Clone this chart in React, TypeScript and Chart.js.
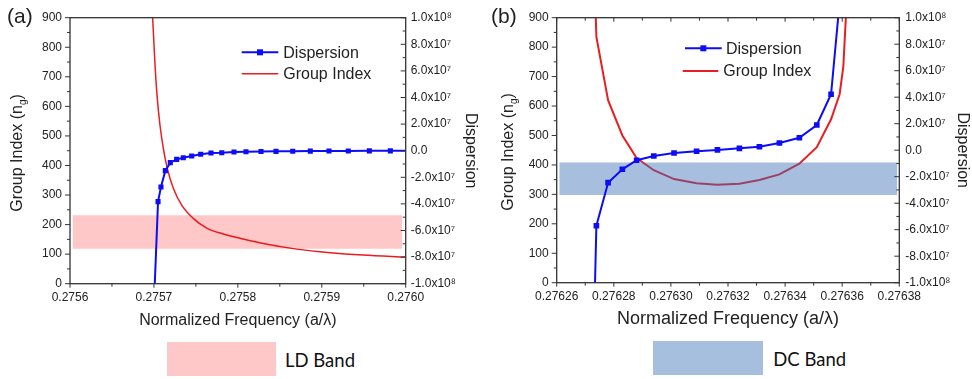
import React, { useEffect, useRef } from 'react';
import { Chart, registerables } from 'chart.js';

Chart.register(...registerables);

const FONT = "'Liberation Sans', Arial, sans-serif";
const INK = '#222222';
const BLUE = 'rgb(12,12,245)';
const RED = 'rgb(232,30,34)';

// ---- shared axes ----
const groupTicks = [0, 100, 200, 300, 400, 500, 600, 700, 800, 900];
const dispTicks = [-1e8, -8e7, -6e7, -4e7, -2e7, 0, 2e7, 4e7, 6e7, 8e7, 1e8];
const dispTickLabels = ['-1.0x10⁸', '-8.0x10⁷', '-6.0x10⁷', '-4.0x10⁷', '-2.0x10⁷', '0.0', '2.0x10⁷', '4.0x10⁷', '6.0x10⁷', '8.0x10⁷', '1.0x10⁸'];

// ---- panel (a) ----
const freqTicksA = [0.2756, 0.2757, 0.2758, 0.2759, 0.276];
const groupFreqA = [0.2756978, 0.2756985, 0.2757013, 0.275704, 0.2757072, 0.2757112, 0.2757159, 0.2757231, 0.2757331, 0.2757469, 0.2757629, 0.2757827, 0.2758026, 0.2758303, 0.2758701, 0.2759098, 0.2759495, 0.276];
const groupIndexA = [950, 898, 740, 627, 537, 458, 390, 323, 266, 221, 188, 168, 154, 136, 117, 105, 97, 90];
const dispFreqA = [0.2757009, 0.2757049, 0.2757084, 0.2757136, 0.2757195, 0.2757271, 0.275735, 0.275745, 0.2757557, 0.275768, 0.2757808, 0.2757954, 0.2758097, 0.2758276, 0.2758455, 0.2758654, 0.2758863, 0.2759086, 0.2759316, 0.2759567, 0.2759817, 0.276];
const dispersionA = [-1.02e8, -3.83e7, -2.73e7, -1.5e7, -9.0e6, -6.5e6, -5.3e6, -4.0e6, -2.7e6, -1.7e6, -1.5e6, -1.0e6, -0.8e6, -0.6e6, -0.5e6, -0.4e6, -0.3e6, -0.2e6, -0.2e6, -0.1e6, -0.1e6, -0.1e6];
const bandFreqA = [0.275603, 0.275996];
const bandRangeA = [118, 232];

// ---- panel (b) ----
const freqTicksB = [0.27626, 0.27628, 0.2763, 0.27632, 0.27634, 0.27636, 0.27638];
const groupFreqB = [0.2762734, 0.2762739, 0.276278, 0.276283, 0.276288, 0.276294, 0.2763011, 0.276309, 0.2763163, 0.276324, 0.276331, 0.276338, 0.276345, 0.2763511, 0.2763561, 0.2763591, 0.2763604, 0.2763616];
const groupIndexB = [990, 835, 620, 500, 423, 382, 352, 338, 333, 336, 349, 368, 404, 460, 555, 640, 735, 960];
const dispFreqB = [0.2762734, 0.2762739, 0.276278, 0.276283, 0.276288, 0.276294, 0.2763011, 0.276309, 0.2763163, 0.276324, 0.276331, 0.276338, 0.276345, 0.2763511, 0.2763561, 0.2763588];
const dispersionB = [-1.02e8, -5.7e7, -2.45e7, -1.44e7, -7.6e6, -4.4e6, -2.1e6, -0.8e6, 0.2e6, 1.4e6, 2.6e6, 5.4e6, 9.4e6, 1.9e7, 4.22e7, 1.05e8];
const bandFreqB = [0.2762609, 0.2763793];
const bandRangeB = [298, 408];

type LegendItem = { color: string; width: number; marker: boolean; x1: number; x2: number; y: number; text: string; tx: number };

type PanelSpec = {
  left: number;
  freqTicks: number[];
  freqDigits: number;
  groupFreq: number[];
  groupIndex: number[];
  dispFreq: number[];
  dispersion: number[];
  bandFreq: number[];
  bandRange: number[];
  bandColor: string;
  area: { left: number; right: number; top: number; bottom: number };
  xTitleSize: number;
  xTitlePad: number;
  rightTitlePad: number;
  rightLabelPad: number;
  groupWidth: number;
  dispWidth: number;
  markerR: number;
  topTicks: boolean;
  legend: LegendItem[];
};

const W = 486;
const H = 340;

const mid = (arr: number[]) => arr.slice(0, -1).map((v, i) => (v + arr[i + 1]) / 2);

function framePlugin(spec: PanelSpec) {
  return {
    id: 'frame',
    afterDatasetsDraw(chart: any) {
      const { ctx, chartArea: a, scales } = chart;
      ctx.save();
      ctx.strokeStyle = '#333';
      ctx.lineWidth = 1.3;
      ctx.strokeRect(a.left, a.top, a.right - a.left, a.bottom - a.top);
      ctx.lineWidth = 1;
      const seg = (x1: number, y1: number, x2: number, y2: number) => {
        ctx.beginPath();
        ctx.moveTo(x1, y1);
        ctx.lineTo(x2, y2);
        ctx.stroke();
      };
      const xs = scales.x;
      const yl = scales.y;
      const yr = scales.y2;
      spec.freqTicks.forEach((v) => {
        const p = xs.getPixelForValue(v);
        seg(p, a.bottom, p, a.bottom + 4);
        if (spec.topTicks) seg(p, a.top, p, a.top + 4);
      });
      mid(spec.freqTicks).forEach((v) => {
        const p = xs.getPixelForValue(v);
        seg(p, a.bottom, p, a.bottom + 3);
        if (spec.topTicks) seg(p, a.top, p, a.top + 3);
      });
      groupTicks.forEach((v) => {
        const p = yl.getPixelForValue(v);
        seg(a.left - 5, p, a.left, p);
      });
      mid(groupTicks).forEach((v) => {
        const p = yl.getPixelForValue(v);
        seg(a.left - 3, p, a.left, p);
      });
      dispTicks.forEach((v) => {
        const p = yr.getPixelForValue(v);
        seg(a.right - 5, p, a.right, p);
      });
      mid(dispTicks).forEach((v) => {
        const p = yr.getPixelForValue(v);
        seg(a.right - 3, p, a.right, p);
      });
      ctx.restore();
    },
  };
}

function legendPlugin(items: LegendItem[]) {
  return {
    id: 'customLegend',
    afterDraw(chart: any) {
      const ctx = chart.ctx;
      ctx.save();
      items.forEach((it) => {
        ctx.strokeStyle = it.color;
        ctx.lineWidth = it.width;
        ctx.beginPath();
        ctx.moveTo(it.x1, it.y);
        ctx.lineTo(it.x2, it.y);
        ctx.stroke();
        if (it.marker) {
          ctx.fillStyle = it.color;
          const m = (it.x1 + it.x2) / 2;
          ctx.fillRect(m - 3, it.y - 3, 6, 6);
        }
        ctx.fillStyle = INK;
        ctx.font = `16px ${FONT}`;
        ctx.textBaseline = 'middle';
        ctx.textAlign = 'left';
        ctx.fillText(it.text, it.tx, it.y + 1);
      });
      ctx.restore();
    },
  };
}

function Panel({ spec }: { spec: PanelSpec }) {
  const ref = useRef<HTMLCanvasElement | null>(null);
  useEffect(() => {
    if (!ref.current) return;
    const tickFont = { family: FONT, size: 12 };
    const n = spec.dispFreq.length;
    const chart = new Chart(ref.current, {
      type: 'line',
      data: {
        datasets: [
          {
            label: 'Dispersion',
            data: spec.dispFreq.map((x, i) => ({ x, y: spec.dispersion[i] })),
            yAxisID: 'y2',
            borderColor: BLUE,
            backgroundColor: BLUE,
            borderWidth: spec.dispWidth,
            pointStyle: 'rect',
            pointRadius: (c: any) => (c.dataIndex === 0 || c.dataIndex === n - 1 ? 0 : spec.markerR),
            pointBorderWidth: 0,
            tension: 0,
            fill: false,
          },
          {
            label: 'band top',
            data: spec.bandFreq.map((x) => ({ x, y: spec.bandRange[1] })),
            yAxisID: 'y',
            borderWidth: 0,
            borderColor: 'rgba(0,0,0,0)',
            pointRadius: 0,
            backgroundColor: spec.bandColor,
            fill: '+1',
          },
          {
            label: 'band bottom',
            data: spec.bandFreq.map((x) => ({ x, y: spec.bandRange[0] })),
            yAxisID: 'y',
            borderWidth: 0,
            borderColor: 'rgba(0,0,0,0)',
            pointRadius: 0,
            fill: false,
          },
          {
            label: 'Group Index',
            data: spec.groupFreq.map((x, i) => ({ x, y: spec.groupIndex[i] })),
            yAxisID: 'y',
            borderColor: RED,
            borderWidth: spec.groupWidth,
            pointRadius: 0,
            cubicInterpolationMode: spec.topTicks ? 'default' : 'monotone',
            tension: 0,
            fill: false,
          },
        ],
      },
      options: {
        animation: false,
        responsive: false,
        events: [],
        layout: { padding: { top: spec.area.top, left: 0, right: 0, bottom: 0 } },
        plugins: { legend: { display: false }, tooltip: { enabled: false } },
        scales: {
          x: {
            type: 'linear',
            min: spec.freqTicks[0],
            max: spec.freqTicks[spec.freqTicks.length - 1],
            afterBuildTicks: (s: any) => {
              s.ticks = spec.freqTicks.map((v) => ({ value: v }));
            },
            afterFit: (s: any) => {
              s.height = H - spec.area.bottom;
            },
            ticks: {
              font: tickFont,
              color: INK,
              padding: 7,
              maxRotation: 0,
              autoSkip: false,
              callback: (v: any) => Number(v).toFixed(spec.freqDigits),
            },
            grid: { display: false, drawTicks: false },
            border: { display: false },
            title: {
              display: true,
              text: 'Normalized Frequency (a/λ)',
              font: { family: FONT, size: spec.xTitleSize },
              color: INK,
              padding: { top: 0, bottom: spec.xTitlePad },
            },
          },
          y: {
            type: 'linear',
            position: 'left',
            min: 0,
            max: 900,
            afterBuildTicks: (s: any) => {
              s.ticks = groupTicks.map((v) => ({ value: v }));
            },
            afterFit: (s: any) => {
              s.width = spec.area.left;
            },
            ticks: { font: tickFont, color: INK, padding: 8 },
            grid: { display: false, drawTicks: false },
            border: { display: false },
          },
          y2: {
            type: 'linear',
            position: 'right',
            min: -1e8,
            max: 1e8,
            afterBuildTicks: (s: any) => {
              s.ticks = dispTicks.map((v) => ({ value: v }));
            },
            afterFit: (s: any) => {
              s.width = W - spec.area.right;
            },
            ticks: {
              font: tickFont,
              color: INK,
              padding: spec.rightLabelPad,
              callback: (v: any) => dispTickLabels[dispTicks.indexOf(Number(v))],
            },
            grid: { display: false, drawTicks: false },
            border: { display: false },
            title: {
              display: true,
              text: 'Dispersion',
              font: { family: FONT, size: 16 },
              color: INK,
              padding: { top: spec.rightTitlePad, bottom: 0 },
            },
          },
        },
      },
      plugins: [framePlugin(spec), legendPlugin(spec.legend)],
    } as any);
    return () => chart.destroy();
  }, [spec]);
  return (
    <canvas
      ref={ref}
      width={W}
      height={H}
      style={{ position: 'absolute', left: spec.left, top: 0, width: W, height: H }}
    />
  );
}

const specA: PanelSpec = {
  left: 0,
  freqTicks: freqTicksA,
  freqDigits: 4,
  groupFreq: groupFreqA,
  groupIndex: groupIndexA,
  dispFreq: dispFreqA,
  dispersion: dispersionA,
  bandFreq: bandFreqA,
  bandRange: bandRangeA,
  bandColor: 'rgba(255,0,0,0.215)',
  area: { left: 70, right: 405.7, top: 17.7, bottom: 283.7 },
  xTitleSize: 16,
  xTitlePad: 10,
  rightTitlePad: 5.5,
  rightLabelPad: 5,
  groupWidth: 1.5,
  dispWidth: 2,
  markerR: 3.6,
  topTicks: false,
  legend: [
    { color: BLUE, width: 2, marker: true, x1: 241.7, x2: 278.3, y: 52.3, text: 'Dispersion', tx: 283.3 },
    { color: RED, width: 1.6, marker: false, x1: 241.7, x2: 278.3, y: 73.7, text: 'Group Index', tx: 283.3 },
  ],
};

const specB: PanelSpec = {
  left: 486,
  freqTicks: freqTicksB,
  freqDigits: 5,
  groupFreq: groupFreqB,
  groupIndex: groupIndexB,
  dispFreq: dispFreqB,
  dispersion: dispersionB,
  bandFreq: bandFreqB,
  bandRange: bandRangeB,
  bandColor: 'rgba(60,110,185,0.45)',
  area: { left: 70.7, right: 413.3, top: 17.7, bottom: 282.7 },
  xTitleSize: 18,
  xTitlePad: 10,
  rightTitlePad: 0,
  rightLabelPad: 6,
  groupWidth: 2,
  dispWidth: 2,
  markerR: 4,
  topTicks: true,
  legend: [
    { color: BLUE, width: 2, marker: true, x1: 199, x2: 235.7, y: 48.3, text: 'Dispersion', tx: 240 },
    { color: RED, width: 2, marker: false, x1: 196.7, x2: 232.3, y: 71, text: 'Group Index', tx: 237.3 },
  ],
};

const abs = (s: React.CSSProperties): React.CSSProperties => ({ position: 'absolute', ...s });

function YTitle({ cx, cy }: { cx: number; cy: number }) {
  return (
    <div
      style={abs({
        left: cx,
        top: cy,
        transform: 'translate(-50%,-50%) rotate(-90deg)',
        whiteSpace: 'nowrap',
        fontFamily: FONT,
        fontSize: 16,
        lineHeight: '18px',
        color: INK,
      })}
    >
      Group Index (n<span style={{ fontSize: 10, position: 'relative', top: 4 }}>g</span>)
    </div>
  );
}

export default function App() {
  return (
    <div style={abs({ left: 0, top: 0, width: 972, height: 379, background: '#fff', overflow: 'hidden' })}>
      <Panel spec={specA} />
      <Panel spec={specB} />
      <div style={abs({ left: 7, top: 5, fontFamily: FONT, fontSize: 21, lineHeight: '21px', color: INK })}>(a)</div>
      <div style={abs({ left: 491, top: 5, fontFamily: FONT, fontSize: 21, lineHeight: '21px', color: INK })}>(b)</div>
      <YTitle cx={18.3} cy={152.5} />
      <YTitle cx={508.7} cy={152} />
      <div style={abs({ left: 166.7, top: 342.3, width: 109, height: 33.4, background: '#ffc8c8' })} />
      <div style={abs({ left: 285, top: 348, fontFamily: 'Lato, sans-serif', fontSize: 18.5, lineHeight: '24px', color: '#111' })}>LD Band</div>
      <div style={abs({ left: 652.7, top: 340.7, width: 110, height: 34.3, background: '#a7bfde' })} />
      <div style={abs({ left: 773.3, top: 347, fontFamily: 'Lato, sans-serif', fontSize: 18.5, lineHeight: '24px', color: '#111' })}>DC Band</div>
    </div>
  );
}
